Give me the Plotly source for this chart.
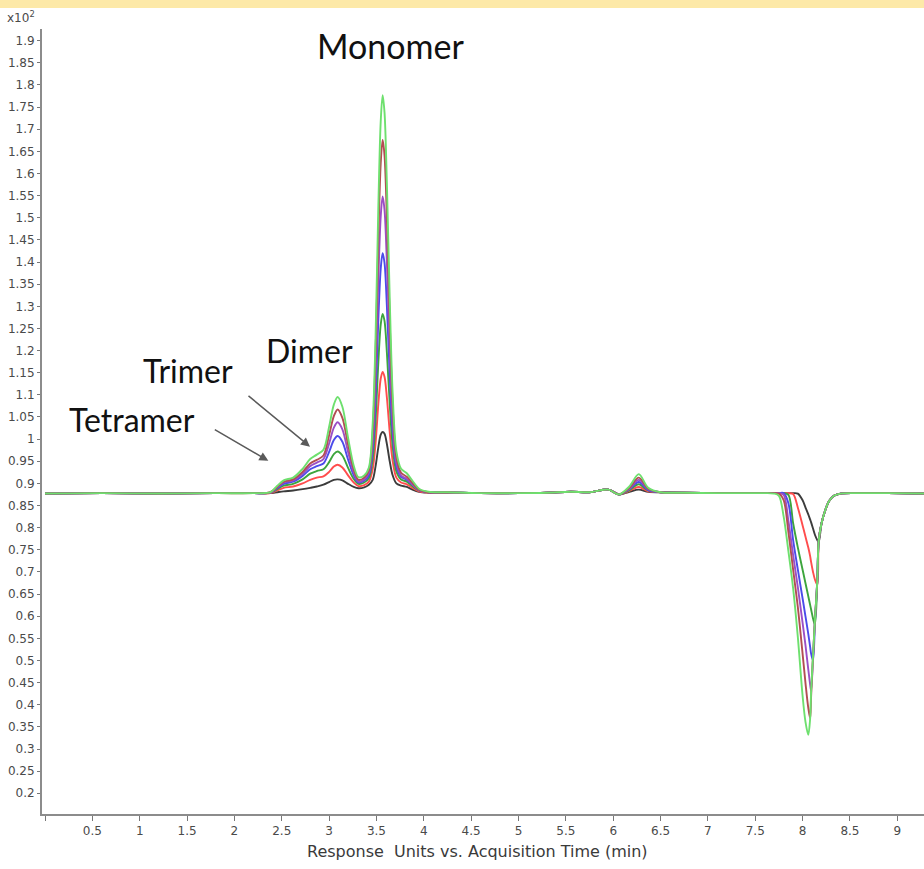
import plotly.graph_objects as go

# ---------------- data ----------------
TIME = [
    0.0, 0.6, 1.2, 1.8, 2.2,
    2.38, 2.45, 2.52, 2.62, 2.72, 2.8, 2.87, 2.94, 3.0, 3.05, 3.09, 3.14, 3.2, 3.26, 3.31, 3.37, 3.42,
    3.46, 3.49, 3.52, 3.545, 3.565, 3.585, 3.61, 3.64, 3.67, 3.71, 3.76, 3.82, 3.88, 3.95, 4.05, 4.25,
    4.6, 5.0, 5.3, 5.55, 5.75, 5.95, 6.06, 6.17, 6.27, 6.37, 6.5, 6.75, 7.1, 7.4,
    7.6, 7.7, 7.75, 7.8, 7.85, 7.9, 7.95, 8.0, 8.03, 8.06, 8.08, 8.09, 8.11, 8.13, 8.155, 8.17,
    8.2, 8.24, 8.28, 8.33, 8.4, 8.6, 8.9, 9.3,
]

RUN_1 = [  # light green (highest)
    0.877, 0.878, 0.877, 0.878, 0.878,
    0.880, 0.894, 0.907, 0.913, 0.933, 0.955, 0.965, 0.976, 1.028, 1.078, 1.095, 1.073, 1.003, 0.940, 0.914, 0.918, 0.936,
    1.035, 1.228, 1.528, 1.718, 1.777, 1.738, 1.578, 1.318, 1.108, 0.973, 0.933, 0.923, 0.906, 0.888, 0.881, 0.880,
    0.878, 0.878, 0.879, 0.881, 0.880, 0.886, 0.875, 0.893, 0.921, 0.890, 0.880, 0.879, 0.878, 0.878,
    0.878, 0.877, 0.872, 0.825, 0.747, 0.663, 0.552, 0.420, 0.362, 0.332, 0.370, 0.430, 0.510, 0.590, 0.680, 0.770,
    0.810, 0.840, 0.860, 0.872, 0.877, 0.878, 0.878, 0.877,
]
RUN_2 = [  # brownish red
    0.877, 0.878, 0.877, 0.878, 0.878,
    0.880, 0.892, 0.904, 0.909, 0.926, 0.945, 0.953, 0.963, 1.009, 1.052, 1.067, 1.048, 0.988, 0.932, 0.908, 0.913, 0.930,
    1.015, 1.189, 1.454, 1.623, 1.676, 1.641, 1.499, 1.267, 1.080, 0.959, 0.924, 0.915, 0.901, 0.886, 0.880, 0.880,
    0.878, 0.878, 0.879, 0.881, 0.880, 0.886, 0.875, 0.890, 0.913, 0.888, 0.880, 0.879, 0.878, 0.878,
    0.878, 0.878, 0.877, 0.862, 0.790, 0.705, 0.620, 0.515, 0.450, 0.393, 0.369, 0.420, 0.510, 0.590, 0.680, 0.770,
    0.810, 0.840, 0.860, 0.872, 0.877, 0.878, 0.878, 0.877,
]
RUN_3 = [  # purple
    0.877, 0.878, 0.877, 0.878, 0.878,
    0.879, 0.891, 0.902, 0.907, 0.922, 0.939, 0.947, 0.955, 0.990, 1.026, 1.038, 1.022, 0.971, 0.925, 0.904, 0.909, 0.924,
    0.994, 1.139, 1.362, 1.503, 1.548, 1.518, 1.399, 1.205, 1.048, 0.947, 0.918, 0.910, 0.898, 0.885, 0.880, 0.880,
    0.878, 0.878, 0.879, 0.881, 0.880, 0.886, 0.875, 0.888, 0.908, 0.887, 0.880, 0.879, 0.878, 0.878,
    0.878, 0.878, 0.878, 0.874, 0.815, 0.738, 0.665, 0.585, 0.535, 0.480, 0.445, 0.432, 0.505, 0.590, 0.680, 0.770,
    0.810, 0.840, 0.860, 0.872, 0.877, 0.878, 0.878, 0.877,
]
RUN_4 = [  # blue
    0.877, 0.878, 0.877, 0.878, 0.878,
    0.879, 0.889, 0.899, 0.904, 0.917, 0.932, 0.939, 0.945, 0.971, 0.998, 1.007, 0.994, 0.954, 0.918, 0.902, 0.906, 0.918,
    0.976, 1.092, 1.272, 1.385, 1.420, 1.398, 1.301, 1.145, 1.019, 0.938, 0.915, 0.908, 0.897, 0.885, 0.880, 0.880,
    0.878, 0.878, 0.879, 0.881, 0.880, 0.886, 0.875, 0.887, 0.903, 0.885, 0.880, 0.879, 0.878, 0.878,
    0.878, 0.878, 0.878, 0.878, 0.855, 0.772, 0.705, 0.640, 0.600, 0.560, 0.530, 0.515, 0.500, 0.585, 0.680, 0.770,
    0.810, 0.840, 0.860, 0.872, 0.877, 0.878, 0.878, 0.877,
]
RUN_5 = [  # green
    0.877, 0.878, 0.877, 0.878, 0.878,
    0.879, 0.887, 0.895, 0.899, 0.909, 0.922, 0.928, 0.932, 0.948, 0.966, 0.972, 0.963, 0.935, 0.910, 0.899, 0.902, 0.912,
    0.954, 1.041, 1.174, 1.259, 1.283, 1.267, 1.196, 1.080, 0.986, 0.927, 0.909, 0.904, 0.894, 0.884, 0.880, 0.880,
    0.878, 0.878, 0.879, 0.881, 0.880, 0.886, 0.875, 0.885, 0.898, 0.884, 0.880, 0.879, 0.878, 0.878,
    0.878, 0.878, 0.878, 0.878, 0.874, 0.810, 0.755, 0.705, 0.675, 0.645, 0.625, 0.615, 0.595, 0.581, 0.680, 0.770,
    0.810, 0.840, 0.860, 0.872, 0.877, 0.878, 0.878, 0.877,
]
RUN_6 = [  # red
    0.877, 0.878, 0.877, 0.878, 0.878,
    0.878, 0.884, 0.890, 0.893, 0.900, 0.908, 0.913, 0.916, 0.926, 0.938, 0.942, 0.936, 0.918, 0.902, 0.894, 0.896, 0.904,
    0.932, 0.990, 1.080, 1.137, 1.152, 1.141, 1.094, 1.016, 0.952, 0.913, 0.902, 0.898, 0.890, 0.882, 0.879, 0.879,
    0.878, 0.878, 0.879, 0.881, 0.880, 0.886, 0.875, 0.883, 0.892, 0.882, 0.880, 0.879, 0.878, 0.878,
    0.878, 0.878, 0.878, 0.878, 0.878, 0.876, 0.845, 0.805, 0.780, 0.755, 0.735, 0.722, 0.700, 0.683, 0.671, 0.770,
    0.810, 0.840, 0.860, 0.872, 0.877, 0.878, 0.878, 0.877,
]
RUN_7 = [  # dark grey (lowest)
    0.877, 0.878, 0.877, 0.878, 0.878,
    0.878, 0.880, 0.882, 0.884, 0.887, 0.890, 0.893, 0.897, 0.903, 0.908, 0.909, 0.907, 0.899, 0.892, 0.889, 0.891, 0.897,
    0.908, 0.938, 0.982, 1.010, 1.016, 1.012, 0.989, 0.950, 0.919, 0.900, 0.895, 0.892, 0.886, 0.881, 0.879, 0.878,
    0.878, 0.878, 0.879, 0.881, 0.880, 0.886, 0.875, 0.881, 0.886, 0.881, 0.880, 0.879, 0.878, 0.878,
    0.878, 0.878, 0.878, 0.878, 0.878, 0.878, 0.877, 0.862, 0.846, 0.830, 0.818, 0.812, 0.798, 0.784, 0.772, 0.768,
    0.810, 0.840, 0.860, 0.872, 0.877, 0.878, 0.878, 0.877,
]

RUNS = [RUN_7, RUN_6, RUN_5, RUN_4, RUN_3, RUN_2, RUN_1]
RUN_NAMES = ["Run 7", "Run 6", "Run 5", "Run 4", "Run 3", "Run 2", "Run 1"]
RUN_COLORS = ["#3c3c3c", "#ff4d4d", "#3da53d", "#4b4bea", "#9b4fc6", "#b24e52", "#6ee06e"]

X_TICKS = [0, 0.5, 1, 1.5, 2, 2.5, 3, 3.5, 4, 4.5, 5, 5.5, 6, 6.5, 7, 7.5, 8, 8.5, 9]
X_TICK_LABELS = ["", "0.5", "1", "1.5", "2", "2.5", "3", "3.5", "4", "4.5", "5",
                 "5.5", "6", "6.5", "7", "7.5", "8", "8.5", "9"]
Y_TICKS = [0.2, 0.25, 0.3, 0.35, 0.4, 0.45, 0.5, 0.55, 0.6, 0.65, 0.7, 0.75, 0.8, 0.85,
           0.9, 0.95, 1.0, 1.05, 1.1, 1.15, 1.2, 1.25, 1.3, 1.35, 1.4, 1.45, 1.5, 1.55,
           1.6, 1.65, 1.7, 1.75, 1.8, 1.85, 1.9]
Y_TICK_LABELS = ["0.2", "0.25", "0.3", "0.35", "0.4", "0.45", "0.5", "0.55", "0.6", "0.65",
                 "0.7", "0.75", "0.8", "0.85", "0.9", "0.95", "1", "1.05", "1.1", "1.15",
                 "1.2", "1.25", "1.3", "1.35", "1.4", "1.45", "1.5", "1.55", "1.6", "1.65",
                 "1.7", "1.75", "1.8", "1.85", "1.9"]

PEAK_LABELS = ["Monomer", "Dimer", "Trimer", "Tetramer"]
PEAK_LABEL_POS = [(3.643, 1.890), (2.788, 1.201), (1.505, 1.154), (0.915, 1.044)]
ARROW_HEADS = [(2.798, 0.983), (2.358, 0.951)]   # Trimer, Tetramer
ARROW_TAILS_PX = [(-63, -52), (-55, -32)]

# ---------------- figure ----------------
fig = go.Figure()
for name, ys, col in zip(RUN_NAMES, RUNS, RUN_COLORS):
    fig.add_trace(go.Scatter(
        x=TIME, y=ys, mode="lines", name=name,
        line=dict(color=col, width=1.9, shape="spline", smoothing=0.9),
        showlegend=False, hoverinfo="skip",
    ))

tick_font = dict(family="DejaVu Sans", size=12, color="#4a4a4a")
fig.update_layout(
    width=924, height=869,
    margin=dict(l=42, r=0, t=29, b=55),
    paper_bgcolor="white", plot_bgcolor="white",
    xaxis=dict(
        range=[-0.032, 9.282], tickmode="array", tickvals=X_TICKS, ticktext=X_TICK_LABELS,
        ticks="outside", ticklen=5, tickwidth=1, tickcolor="#777777",
        showline=True, linecolor="#8c8c8c", linewidth=2,
        showgrid=False, zeroline=False, tickfont=tick_font,
    ),
    yaxis=dict(
        range=[0.1532, 1.9264], tickmode="array", tickvals=Y_TICKS, ticktext=Y_TICK_LABELS,
        ticks="outside", ticklen=3, tickwidth=1, tickcolor="#777777",
        showline=True, linecolor="#8c8c8c", linewidth=2,
        showgrid=False, zeroline=False, tickfont=tick_font,
    ),
)

label_sizes = [34, 32, 32, 32]
for text, (lx, ly), sz in zip(PEAK_LABELS, PEAK_LABEL_POS, label_sizes):
    fig.add_annotation(x=lx, y=ly, xref="x", yref="y", text=text, showarrow=False,
                       xanchor="center", yanchor="middle",
                       font=dict(family="Lato", size=sz, color="#111111"))

for (hx, hy), (tx, ty) in zip(ARROW_HEADS, ARROW_TAILS_PX):
    fig.add_annotation(x=hx, y=hy, xref="x", yref="y", text="", showarrow=True,
                       ax=tx, ay=ty, arrowhead=2, arrowsize=1.2, arrowwidth=1.5,
                       arrowcolor="#5a5a5a", standoff=0)

fig.add_annotation(x=-0.0238, y=1.0153, xref="paper", yref="paper",
                   text="x10<sup>2</sup>", showarrow=False, xanchor="center", yanchor="middle",
                   font=dict(family="DejaVu Sans", size=12, color="#4a4a4a"))
fig.add_annotation(x=0.4932, y=-0.0484, xref="paper", yref="paper",
                   text="Response  Units vs. Acquisition Time (min)", showarrow=False,
                   xanchor="center", yanchor="middle",
                   font=dict(family="DejaVu Sans", size=16, color="#3a3a3a"))

fig.add_shape(type="rect", xref="paper", yref="paper", x0=-0.05, x1=1.0,
              y0=1.0268, y1=1.04, fillcolor="#fde9a8", line=dict(width=0), layer="above")

fig.write_html("out.html", config={"displayModeBar": False},
               post_script="document.body.style.margin='0';document.body.style.overflow='hidden';")
